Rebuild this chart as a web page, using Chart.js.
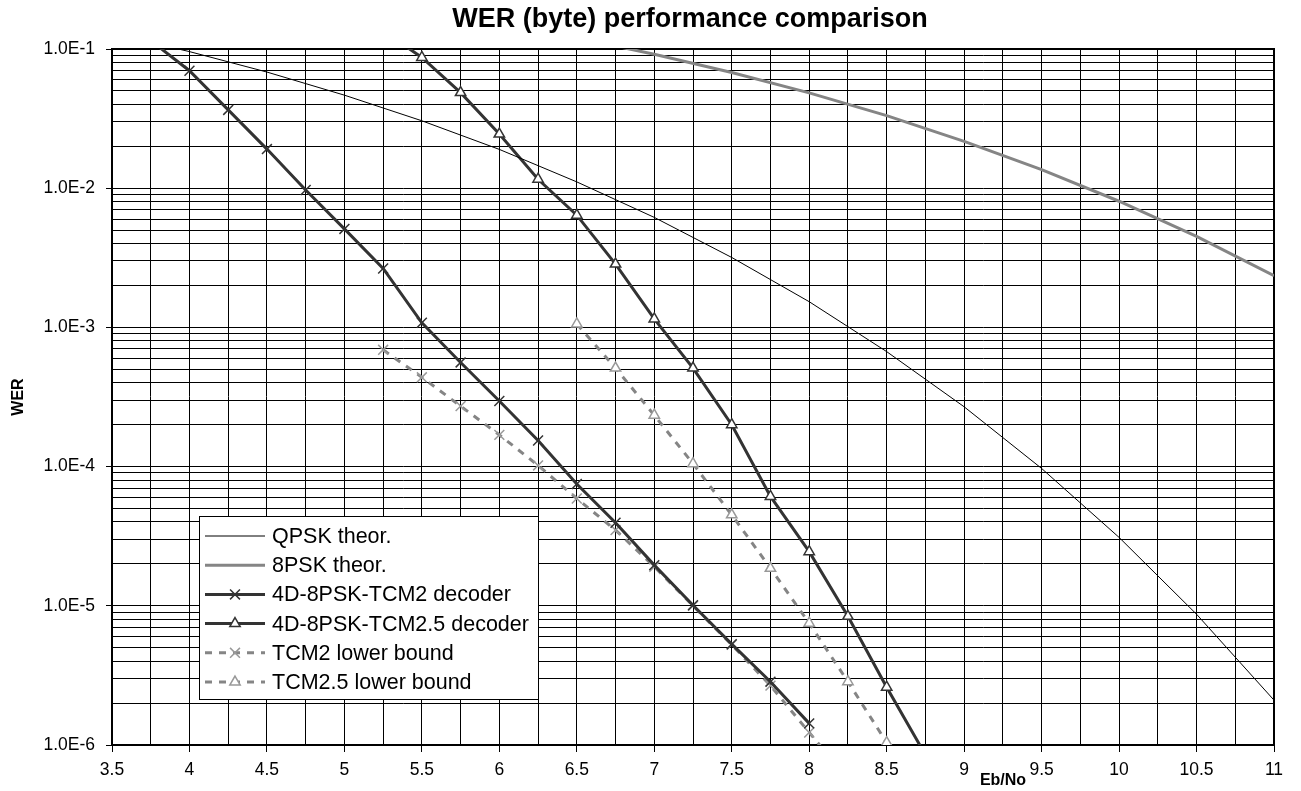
<!DOCTYPE html>
<html>
<head>
<meta charset="utf-8">
<script src="https://cdn.jsdelivr.net/npm/chart.js@4.4.0/dist/chart.umd.min.js"></script>
<style>
    html, body { margin: 0; padding: 0; background: #fff; }
    #wrap { width: 1301px; height: 791px; }
</style>
</head>
<body>
<div id="wrap"><canvas id="c" width="1301" height="791"></canvas></div>
<script>
    'use strict';

    // Eb/No (dB) and WER values
    var xTheory = [3.5, 4, 4.5, 5, 5.5, 6, 6.5, 7, 7.5, 8, 8.5, 9, 9.5, 10, 10.5, 11];
    var qpskTheor = [0.129, 0.0958, 0.0683, 0.0466, 0.0305, 0.0190, 0.0111, 0.00617, 0.00318,
        0.00153, 0.00067, 0.000269, 0.000097, 0.000031, 0.0000087, 0.0000021];

    var x8psk = [6.5, 7, 7.5, 8, 8.5, 9, 9.5, 10, 10.5, 11];
    var psk8Theor = [0.120, 0.0917, 0.0678, 0.0484, 0.0332, 0.0217, 0.0136, 0.00806, 0.00450, 0.00235];

    var xTcm2 = [3.75, 4, 4.25, 4.5, 4.75, 5, 5.25, 5.5, 5.75, 6, 6.25, 6.5, 6.75, 7, 7.25, 7.5, 7.75, 8];
    var tcm2Decoder = [0.115, 0.0698, 0.0365, 0.0191, 0.0097, 0.0051, 0.00265, 0.00108, 0.00056,
        0.000296, 0.000154, 0.000075, 0.0000395, 0.0000196, 0.0000101, 0.0000053, 0.00000285, 0.00000143];

    var xTcm25 = [5.25, 5.5, 5.75, 6, 6.25, 6.5, 6.75, 7, 7.25, 7.5, 7.75, 8, 8.25, 8.5, 8.75];
    var tcm25Decoder = [0.135, 0.087, 0.0486, 0.0245, 0.0116, 0.0064, 0.00285, 0.00115, 0.00051,
        0.000200, 0.000061, 0.0000245, 0.0000084, 0.0000026, 0.00000085];

    var xTcm2Lb = [5.25, 5.5, 5.75, 6, 6.25, 6.5, 6.75, 7, 7.25, 7.5, 7.75, 8, 8.25];
    var tcm2Lower = [0.00069, 0.000438, 0.000272, 0.000169, 0.000102, 0.000059, 0.000035,
        0.0000191, 0.0000100, 0.00000525, 0.00000267, 0.00000123, 0.00000057];

    var xTcm25Lb = [6.5, 6.75, 7, 7.25, 7.5, 7.75, 8, 8.25, 8.5];
    var tcm25Lower = [0.00106, 0.00051, 0.000234, 0.000105, 0.000045, 0.0000186, 0.0000075,
        0.00000285, 0.00000104];

    var xTickLabels = ['3.5', '4', '4.5', '5', '5.5', '6', '6.5', '7', '7.5', '8', '8.5', '9', '9.5', '10', '10.5', '11'];
    var yTickLabels = ['1.0E-6', '1.0E-5', '1.0E-4', '1.0E-3', '1.0E-2', '1.0E-1'];
    var yDecades = [-6, -5, -4, -3, -2, -1];

    var FONT = '"Liberation Sans", Arial, Helvetica, sans-serif';
    var DARK = '#333333';
    var GREY = '#858585';

    function pts(xs, ys) {
        return xs.map(function (x, i) { return { x: x, y: ys[i] }; });
    }

    function xLabel(v) {
        var k = (v - 3.5) / 0.5;
        return Math.abs(k - Math.round(k)) < 1e-6 ? xTickLabels[Math.round(k)] : '';
    }

    function yLabel(v) {
        var e = Math.log10(v);
        var i = yDecades.indexOf(Math.round(e));
        return (Math.abs(e - Math.round(e)) < 1e-6 && i >= 0) ? yTickLabels[i] : '';
    }

    var boxLegend = {
        id: 'boxLegend',
        afterDraw: function (chart) {
            var ctx = chart.ctx;
            var L = 199, T = 516, W = 339, H = 183;
            ctx.save();
            ctx.fillStyle = '#fff';
            ctx.fillRect(L, T, W, H);
            ctx.strokeStyle = '#000';
            ctx.lineWidth = 1;
            ctx.strokeRect(L + 0.5, T + 0.5, W, H);
            chart.data.datasets.forEach(function (ds, i) {
                var y = T + 20 + i * 29.2;
                ctx.beginPath();
                ctx.setLineDash(ds.borderDash || []);
                ctx.lineWidth = ds.borderWidth;
                ctx.strokeStyle = ds.borderColor;
                ctx.moveTo(L + 6, y);
                ctx.lineTo(L + 66, y);
                ctx.stroke();
                ctx.setLineDash([]);
                if (ds.pointRadius > 0) {
                    ctx.strokeStyle = ds.pointBorderColor;
                    ctx.fillStyle = ds.pointBackgroundColor;
                    ctx.lineWidth = ds.pointBorderWidth;
                    Chart.helpers.drawPoint(ctx, {
                        pointStyle: ds.pointStyle, radius: ds.pointRadius,
                        rotation: 0, borderWidth: ds.pointBorderWidth
                    }, L + 36, y);
                }
                ctx.fillStyle = '#000';
                ctx.font = '21.5px ' + FONT;
                ctx.textBaseline = 'middle';
                ctx.textAlign = 'left';
                ctx.fillText(ds.label, L + 73, y + 1);
            });
            ctx.restore();
        }
    };

    var frameAndTitles = {
        id: 'frameAndTitles',
        beforeDatasetsDraw: function (chart) {
            var a = chart.chartArea, ctx = chart.ctx;
            ctx.save();
            ctx.strokeStyle = '#000';
            ctx.lineWidth = 2;
            ctx.strokeRect(a.left, a.top, a.right - a.left, a.bottom - a.top);
            ctx.restore();
        },
        afterDraw: function (chart) {
            var ctx = chart.ctx;
            ctx.save();
            ctx.fillStyle = '#000';
            ctx.textAlign = 'center';
            ctx.textBaseline = 'middle';
            ctx.font = 'bold 27px ' + FONT;
            ctx.fillText('WER (byte) performance comparison', 690, 20);
            ctx.font = 'bold 16px ' + FONT;
            ctx.fillText('Eb/No', 1003, 781);
            ctx.translate(19, 397);
            ctx.rotate(-Math.PI / 2);
            ctx.fillText('WER', 0, 0);
            ctx.restore();
        }
    };

    function series(label, data, opts) {
        var ds = {
            label: label,
            data: data,
            borderColor: DARK,
            borderWidth: 3,
            pointRadius: 0,
            pointStyle: 'crossRot',
            pointBorderColor: DARK,
            pointBackgroundColor: '#fff',
            pointBorderWidth: 1.5,
            fill: false,
            tension: 0,
            clip: 0
        };
        Object.keys(opts || {}).forEach(function (k) { ds[k] = opts[k]; });
        return ds;
    }

    Chart.defaults.font.family = FONT;
    Chart.defaults.color = '#000';

    new Chart(document.getElementById('c').getContext('2d'), {
        type: 'line',
        data: {
            datasets: [
                series('QPSK theor.', pts(xTheory, qpskTheor), { borderColor: '#000', borderWidth: 1 }),
                series('8PSK theor.', pts(x8psk, psk8Theor), { borderColor: GREY, borderWidth: 3 }),
                series('4D-8PSK-TCM2 decoder', pts(xTcm2, tcm2Decoder), { pointRadius: 7 }),
                series('4D-8PSK-TCM2.5 decoder', pts(xTcm25, tcm25Decoder), { pointRadius: 6, pointStyle: 'triangle' }),
                series('TCM2 lower bound', pts(xTcm2Lb, tcm2Lower), {
                    borderColor: GREY, pointBorderColor: '#999', borderDash: [7, 7], pointRadius: 7
                }),
                series('TCM2.5 lower bound', pts(xTcm25Lb, tcm25Lower), {
                    borderColor: GREY, pointBorderColor: '#999', borderDash: [7, 7], pointRadius: 6, pointStyle: 'triangle'
                })
            ]
        },
        options: {
            responsive: false,
            animation: false,
            devicePixelRatio: 1,
            events: [],
            layout: { padding: { left: 0, top: 49, right: 27, bottom: 0 } },
            plugins: {
                legend: { display: false },
                title: { display: false },
                tooltip: { enabled: false }
            },
            scales: {
                x: {
                    type: 'linear',
                    min: 3.5,
                    max: 11,
                    afterBuildTicks: function (s) {
                        var t = [];
                        for (var v = 3.5; v <= 11.001; v += 0.25) t.push({ value: v });
                        s.ticks = t;
                    },
                    afterFit: function (s) { s.height = 46; },
                    ticks: {
                        autoSkip: false,
                        maxRotation: 0,
                        padding: 8,
                        font: { size: 17.5 },
                        callback: function (v) { return xLabel(v); }
                    },
                    grid: {
                        color: '#000',
                        lineWidth: 1,
                        tickLength: 7,
                        tickColor: function (c) { return c.tick && xLabel(c.tick.value) ? '#000' : 'rgba(0,0,0,0)'; }
                    },
                    border: { color: '#000', width: 2 }
                },
                y: {
                    type: 'logarithmic',
                    min: 1e-6,
                    max: 1e-1,
                    afterBuildTicks: function (s) {
                        var t = [];
                        yDecades.forEach(function (e, i) {
                            var top = i === yDecades.length - 1 ? 1 : 9;
                            for (var m = 1; m <= top; m++) t.push({ value: m * Math.pow(10, e) });
                        });
                        s.ticks = t;
                    },
                    afterFit: function (s) { s.width = 112; },
                    ticks: {
                        autoSkip: false,
                        padding: 11,
                        font: { size: 17.5 },
                        callback: function (v) { return yLabel(v); }
                    },
                    grid: {
                        color: '#000',
                        lineWidth: 1,
                        tickLength: 6,
                        tickColor: function (c) { return c.tick && yLabel(c.tick.value) ? '#000' : 'rgba(0,0,0,0)'; }
                    },
                    border: { color: '#000', width: 2 }
                }
            }
        },
        plugins: [frameAndTitles, boxLegend]
    });
</script>
</body>
</html>
